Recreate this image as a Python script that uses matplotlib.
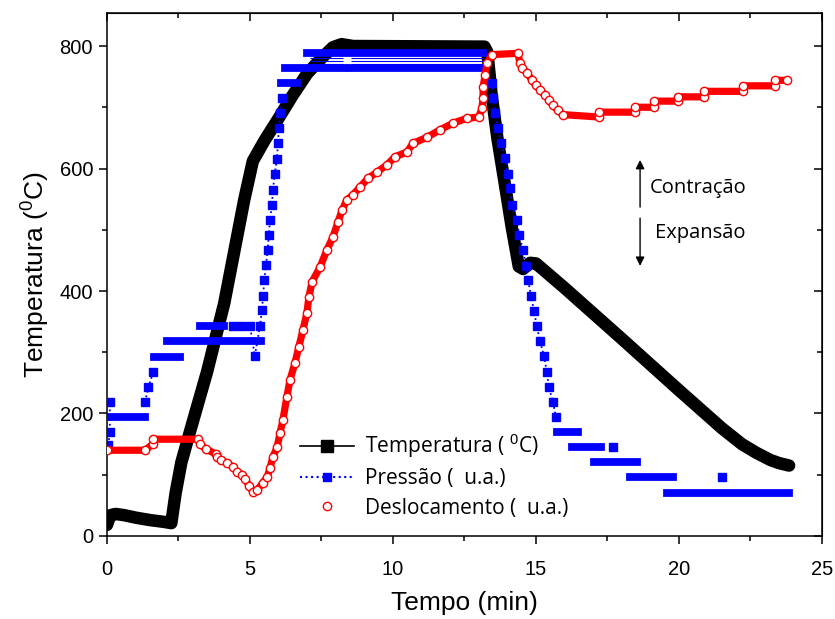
import matplotlib
matplotlib.use("Agg")
import matplotlib.pyplot as plt
import numpy as np
from matplotlib.lines import Line2D
from matplotlib.ticker import MultipleLocator

plt.rcParams["font.family"] = ["Liberation Sans", "DejaVu Sans"]
plt.rcParams["mathtext.fontset"] = "custom"
plt.rcParams["mathtext.rm"] = "Liberation Sans"

# ── Temperature (°C) vs time (min) ────────────────────────────────────────────
temp_t = [0.0, 0.12, 0.3, 0.6, 1.0, 1.5, 2.0, 2.25, 2.4, 2.6, 2.9, 3.5, 4.1,
          4.8, 5.1, 5.5, 6.0, 6.5, 7.0, 7.5, 7.9, 8.2, 8.6, 13.2, 13.3, 13.45,
          13.65, 13.9, 14.15, 14.4, 14.55, 14.8, 15.0, 16.0, 18.0, 20.0, 21.5,
          22.2, 22.7, 23.2, 23.5, 23.85]
temp_v = [18, 34, 36, 34, 30, 26, 23, 21, 70, 120, 170, 268, 380,
          549, 612, 645, 682, 720, 755, 780, 798, 803, 800, 799, 790, 720,
          650, 578, 505, 440, 436, 446, 445, 405, 322, 238, 176,
          150, 136, 124, 119, 115]

# ── Pressure (a.u.): single readings and held plateaus ────────────────────────
pres_t = [0.05, 0.1, 0.1, 1.33, 1.45, 1.62, 4.4, 4.7, 5.0, 5.17, 5.35, 5.42,
          5.46, 5.5, 5.56, 5.62, 5.66, 5.7, 5.77, 5.8, 5.87, 5.94, 5.98, 6.01,
          6.05, 6.12, 13.46, 13.5, 13.57, 13.67, 13.78, 13.92, 14.02, 14.09,
          14.16, 14.34, 14.41, 14.55, 14.65, 14.72, 14.83, 14.93, 15.03, 15.14,
          15.28, 15.38, 15.45, 15.59, 15.7, 17.7, 21.5]
pres_v = [149, 170, 219, 219, 243, 268, 343, 343, 343, 294, 343, 369,
          392, 418, 442, 467, 491, 516, 540, 565, 591, 616, 642, 666,
          690, 715, 739, 715, 690, 666, 642, 617, 591, 568,
          540, 516, 491, 467, 441, 418, 392, 367, 343, 318,
          294, 268, 243, 219, 194, 145, 96]
pres_start = [0.0, 1.65, 2.1, 3.25, 6.1, 6.22, 8.5, 7.0, 15.73, 16.26,
              17.03, 18.29, 19.58]
pres_end = [1.33, 2.55, 5.4, 4.1, 6.64, 8.3, 13.1, 13.15, 16.47, 17.27,
            18.53, 19.8, 23.85]
pres_level = [194, 292, 318, 343, 739, 764, 764, 788, 170, 145,
              121, 96, 70]
# thin links left between the two alternating top levels
link_start = [7.1, 8.55]
link_end = [8.25, 13.15]
link_level = [771, 775, 780]

# ── Displacement (a.u.) ───────────────────────────────────────────────────────
disp_t = [0.0, 1.33, 1.6, 1.6, 3.18, 3.25, 3.46, 3.8, 3.85, 4.0, 4.2, 4.4,
          4.55, 4.72, 4.83, 4.97, 5.1, 5.25, 5.45, 5.6, 5.7, 5.8, 5.95, 6.05,
          6.15, 6.29, 6.4, 6.57, 6.71, 6.85, 6.99, 7.06, 7.17, 7.45, 7.69,
          7.9, 8.08, 8.22, 8.39, 8.6, 8.85, 9.13, 9.44, 9.79, 10.07, 10.49,
          10.7, 11.19, 11.64, 12.1, 12.59, 13.0, 13.11, 13.15, 13.15, 13.22,
          13.29, 13.46, 14.37, 14.44, 14.51, 14.69, 14.86, 15.0, 15.14, 15.31,
          15.45, 15.59, 15.77, 15.94, 17.22, 17.22, 18.45, 18.45, 19.12,
          19.12, 19.95, 19.95, 20.87, 20.87, 22.24, 22.24, 23.36, 23.36,
          23.78]
disp_v = [140, 140, 150, 158, 158, 150, 142, 134, 129, 124, 119, 113,
          105, 100, 93, 82, 72, 75, 87, 96, 111, 129, 145, 168,
          189, 227, 255, 282, 309, 336, 364, 390, 415, 439, 467,
          488, 513, 532, 549, 557, 570, 584, 594, 606, 619, 627,
          641, 651, 663, 674, 682, 684, 698, 715, 733, 752,
          772, 786, 788, 772, 764, 756, 744, 736, 728, 720,
          712, 703, 695, 688, 684, 692, 692, 700, 700,
          710, 710, 717, 717, 726, 726, 735, 735, 744,
          744]


def break_gaps(t, v, max_gap=0.5):
    """Insert NaNs so the dotted link is not drawn across long pauses."""
    t = np.asarray(t, float)
    v = np.asarray(v, float)
    cut = np.where(np.diff(t) > max_gap)[0] + 1
    return np.insert(t, cut, np.nan), np.insert(v, cut, np.nan)


fig = plt.figure(figsize=(8.35, 6.19), dpi=100)
ax = fig.add_axes([0.1281, 0.1341, 0.8563, 0.845])

# temperature: thick black trace
ax.plot(temp_t, temp_v, color="black", lw=9, solid_joinstyle="round",
        solid_capstyle="round", zorder=2)

# pressure plateaus, then the individual readings with dotted links
for t0, t1, p in zip(pres_start, pres_end, pres_level):
    ax.plot([t0, t1], [p, p], color="blue", lw=5.6,
            solid_capstyle="projecting", zorder=3)
for t0, t1 in zip(link_start, link_end):
    ax.hlines(link_level, t0, t1, color="blue", lw=0.8, zorder=3)
pt, pv = break_gaps(pres_t, pres_v)
ax.plot(pt, pv, color="blue", ls=":", lw=1.3, zorder=3)
ax.plot(pres_t, pres_v, ls="none", marker="s", ms=6, mec="blue",
        mfc="blue", zorder=3)

# displacement: red band with open circles at each reading
ax.plot(disp_t, disp_v, color="red", lw=5.2, solid_joinstyle="round",
        solid_capstyle="round", zorder=4)
ax.plot(disp_t, disp_v, ls="none", marker="o", ms=6, mfc="white",
        mec="red", mew=1.0, zorder=5)

ax.set_xlim(0, 25)
ax.set_ylim(0, 854)
ax.xaxis.set_major_locator(MultipleLocator(5))
ax.xaxis.set_minor_locator(MultipleLocator(2.5))
ax.yaxis.set_major_locator(MultipleLocator(200))
ax.yaxis.set_minor_locator(MultipleLocator(100))
ax.tick_params(which="major", direction="out", length=6, width=1.1,
               labelsize=14.5, pad=4)
ax.tick_params(axis="x", which="major", pad=11)
ax.tick_params(which="minor", direction="out", length=3.5, width=1.1)
for sp in ax.spines.values():
    sp.set_linewidth(1.1)

# inward ticks on the opposite spines
right = ax.secondary_yaxis("right")
right.yaxis.set_major_locator(MultipleLocator(200))
right.yaxis.set_minor_locator(MultipleLocator(100))
top = ax.secondary_xaxis("top")
top.xaxis.set_major_locator(MultipleLocator(5))
top.xaxis.set_minor_locator(MultipleLocator(2.5))
for sec in (right, top):
    sec.tick_params(which="major", direction="in", length=6, width=1.1,
                    labelright=False, labeltop=False)
    sec.tick_params(which="minor", direction="in", length=3.5, width=1.1)

ax.set_xlabel("Tempo (min)", fontsize=19, labelpad=9)
ax.set_ylabel("Temperatura ($^0$C)", fontsize=19, labelpad=6)

# contraction / expansion arrows
arrow = dict(arrowstyle="-|>", color="black", lw=1.0, mutation_scale=13,
             shrinkA=0, shrinkB=0)
ax.annotate("", xy=(18.64, 614), xytext=(18.64, 537), arrowprops=arrow)
ax.annotate("", xy=(18.64, 441), xytext=(18.64, 519), arrowprops=arrow)
ax.text(18.99, 568, "Contração", fontsize=14.5, va="center", ha="left",
        family=["Open Sans", "DejaVu Sans"])
ax.text(19.16, 495, "Expansão", fontsize=14.5, va="center", ha="left",
        family=["Open Sans", "DejaVu Sans"])

handles = [
    Line2D([], [], color="black", lw=1.2, marker="s", ms=8),
    Line2D([], [], color="blue", ls=":", lw=1.5, marker="s", ms=6),
    Line2D([], [], ls="none", marker="o", ms=6, mfc="white", mec="red"),
]
labels = ["Temperatura ( $^0$C)", "Pressão (  u.a.)", "Deslocamento (  u.a.)"]
ax.legend(handles, labels, loc="upper left", bbox_to_anchor=(0.27, 0.198),
          frameon=False, borderpad=0, borderaxespad=0, handlelength=2.6,
          handletextpad=0.5, labelspacing=0.4,
          prop={"family": ["Open Sans", "DejaVu Sans"], "size": 15})

fig.savefig("out.png", dpi=100)
